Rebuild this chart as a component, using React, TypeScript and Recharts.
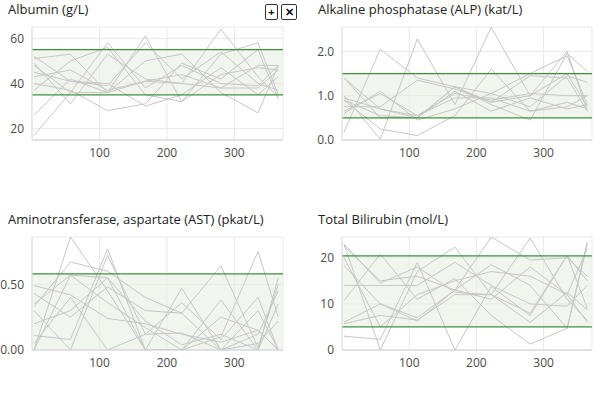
import React from 'react';
import {
  LineChart,
  Line,
  XAxis,
  YAxis,
  CartesianGrid,
  ReferenceArea,
  ReferenceLine,
} from 'recharts';

// visit day (shared by every patient trace)
const days = [3, 57, 112, 168, 222, 280, 335, 365];

const albumin = [
  [17, 36, 58, 38, 48, 40, 39, 48],
  [26, 42, 36, 61, 32, 53, 58, 35],
  [51, 53, 36, 50, 53, 36, 27, 48],
  [49, 31, 53, 42, 40, 64, 43, 34],
  [43, 46, 37, 41, 40, 38, 38, 46],
  [48, 36, 36, 41, 44, 38, 48, 48],
  [52, 41, 40, 30, 35, 47, 35, 43],
  [40, 37, 28, 31, 49, 42, 55, 33],
  [37, 50, 56, 35, 32, 44, 47, 46],
  [45, 41, 39, 58, 42, 54, 40, 37],
];

const alp = [
  [1.4, 0.7, 0.5, 1.2, 0.85, 1.0, 2.0, 0.65],
  [0.18, 2.05, 1.4, 1.2, 0.8, 0.45, 1.95, 1.55],
  [1.0, 0.02, 2.28, 0.8, 2.54, 1.0, 1.5, 0.75],
  [0.9, 0.25, 0.1, 0.55, 1.6, 0.65, 0.85, 0.7],
  [0.65, 1.05, 0.55, 1.05, 0.9, 1.05, 1.0, 1.0],
  [0.9, 0.55, 0.5, 1.2, 1.05, 0.75, 1.45, 1.3],
  [1.4, 0.5, 0.5, 1.1, 0.65, 0.95, 0.7, 0.8],
  [0.75, 0.75, 1.35, 1.15, 0.85, 1.45, 1.4, 0.65],
  [0.95, 0.7, 0.55, 0.95, 0.95, 0.65, 0.75, 1.0],
  [0.6, 1.1, 0.45, 0.7, 1.05, 1.5, 1.9, 0.8],
];

const ast = [
  [0.49, 0.42, 0.24, 0.2, 0.12, 0.06, 0.15, 0.0],
  [0.0, 0.86, 0.45, 0.0, 0.47, 0.0, 0.05, 0.22],
  [0.33, 0.67, 0.6, 0.4, 0.28, 0.64, 0.02, 0.5],
  [0.11, 0.08, 0.77, 0.0, 0.0, 0.38, 0.0, 0.55],
  [0.43, 0.25, 0.48, 0.3, 0.28, 0.0, 0.3, 0.0],
  [0.35, 0.57, 0.55, 0.0, 0.0, 0.1, 0.75, 0.25],
  [0.3, 0.0, 0.72, 0.12, 0.13, 0.0, 0.12, 0.45],
  [0.0, 0.57, 0.36, 0.17, 0.0, 0.25, 0.15, 0.0],
  [0.2, 0.3, 0.55, 0.22, 0.04, 0.12, 0.0, 0.35],
  [0.05, 0.4, 0.0, 0.12, 0.36, 0.08, 0.4, 0.0],
];

const bilirubin = [
  [23, 0, 17, 22.3, 12, 24.3, 11, 6.4],
  [22.5, 15, 16, 13, 24.5, 19.5, 20, 16],
  [18.3, 10, 6.3, 13, 18.5, 14, 4.7, 23],
  [10.7, 20.8, 11, 15.5, 7.5, 1.3, 4.7, 23.5],
  [5.7, 7.5, 6.5, 12, 12, 6.0, 12.5, 8.7],
  [3.0, 2.3, 19, 0, 13.8, 7.5, 20.5, 9],
  [14, 14, 14, 19, 14, 10, 9.5, 14],
  [23, 14.5, 18, 12.5, 12, 8, 20.5, 15],
  [20, 5, 12, 15, 17, 16, 12, 22],
  [6, 10, 7, 13, 11, 18, 12, 6],
];

const xTicks = [100, 200, 300];

const FONT = '"Open Sans", sans-serif';
const GREEN = '#3a923a';

interface PanelProps {
  title: string;
  series: number[][];
  domain: [number, number];
  ticks: number[];
  digits: number;
  low: number;
  high: number;
  showLow?: boolean;
  left: number;
  top: number;
  axisWidth: number;
  rightMargin: number;
}

const toRows = (series: number[][]) =>
  days.map((d, i) => {
    const row: Record<string, number> = { day: d };
    series.forEach((s, k) => {
      row['p' + k] = s[i];
    });
    return row;
  });

const Panel: React.FC<PanelProps> = ({
  title,
  series,
  domain,
  ticks,
  digits,
  low,
  high,
  showLow = true,
  left,
  top,
  axisWidth,
  rightMargin,
}) => {
  const data = toRows(series);
  return (
    <div style={{ position: 'absolute', left, top, width: 300 }}>
      <div
        style={{
          position: 'absolute',
          left: left === 0 ? 8 : 18,
          top: -20,
          fontSize: 13,
          color: '#222',
          whiteSpace: 'nowrap',
        }}
      >
        {title}
      </div>
      <LineChart
        width={300}
        height={145}
        data={data}
        margin={{ top: 7, right: rightMargin, bottom: 0, left: 0 }}
      >
        <CartesianGrid stroke="#e8e8e8" />
        <XAxis
          dataKey="day"
          type="number"
          domain={[0, 372]}
          ticks={xTicks}
          tickLine={false}
          stroke="#cfcfcf"
          tick={{ fill: '#4a4a4a', fontSize: 12 }}
          height={25}
        />
        <YAxis
          type="number"
          domain={domain}
          ticks={ticks}
          allowDataOverflow
          tickLine={false}
          stroke="#e0e0e0"
          width={axisWidth}
          tickFormatter={(v: number) => v.toFixed(digits)}
          tick={{ fill: '#4a4a4a', fontSize: 12 }}
        />
        <ReferenceArea y1={low} y2={high} fill="#e6f0e1" fillOpacity={0.6} stroke="none" />
        {series.map((_, k) => (
          <Line
            key={k}
            dataKey={'p' + k}
            stroke="#c6c6c6"
            strokeWidth={1}
            dot={false}
            isAnimationActive={false}
          />
        ))}
        <ReferenceLine y={high} stroke={GREEN} strokeWidth={1.3} />
        {showLow && <ReferenceLine y={low} stroke={GREEN} strokeWidth={1.3} />}
      </LineChart>
    </div>
  );
};

const btn: React.CSSProperties = {
  position: 'absolute',
  top: 4,
  height: 14,
  border: '1px solid #333',
  borderRadius: 2,
  fontSize: 11,
  fontWeight: 700,
  lineHeight: '14px',
  textAlign: 'center',
  color: '#111',
  background: '#fff',
};

export default function App() {
  return (
    <div
      style={{
        position: 'absolute',
        left: 0,
        top: 0,
        width: 600,
        height: 394,
        background: '#fff',
        fontFamily: FONT,
        overflow: 'hidden',
      }}
    >
      <Panel
        title="Albumin (g/L)"
        series={albumin}
        domain={[15, 65]}
        ticks={[20, 40, 60]}
        digits={0}
        low={35}
        high={55}
        left={0}
        top={20}
        axisWidth={32}
        rightMargin={17}
      />
      <Panel
        title="Alkaline phosphatase (ALP) (kat/L)"
        series={alp}
        domain={[0, 2.55]}
        ticks={[0, 1, 2]}
        digits={1}
        low={0.5}
        high={1.5}
        left={300}
        top={20}
        axisWidth={42}
        rightMargin={8}
      />
      <Panel
        title="Aminotransferase, aspartate (AST) (pkat/L)"
        series={ast}
        domain={[0, 0.86]}
        ticks={[0, 0.5]}
        digits={2}
        low={0}
        high={0.58}
        showLow={false}
        left={0}
        top={230}
        axisWidth={32}
        rightMargin={17}
      />
      <Panel
        title="Total Bilirubin (mol/L)"
        series={bilirubin}
        domain={[0, 24.5]}
        ticks={[0, 10, 20]}
        digits={0}
        low={5}
        high={20.4}
        left={300}
        top={230}
        axisWidth={42}
        rightMargin={8}
      />
      <div style={{ ...btn, left: 265, width: 11 }}>+</div>
      <div style={{ ...btn, left: 281, width: 14 }}>✕</div>
    </div>
  );
}
